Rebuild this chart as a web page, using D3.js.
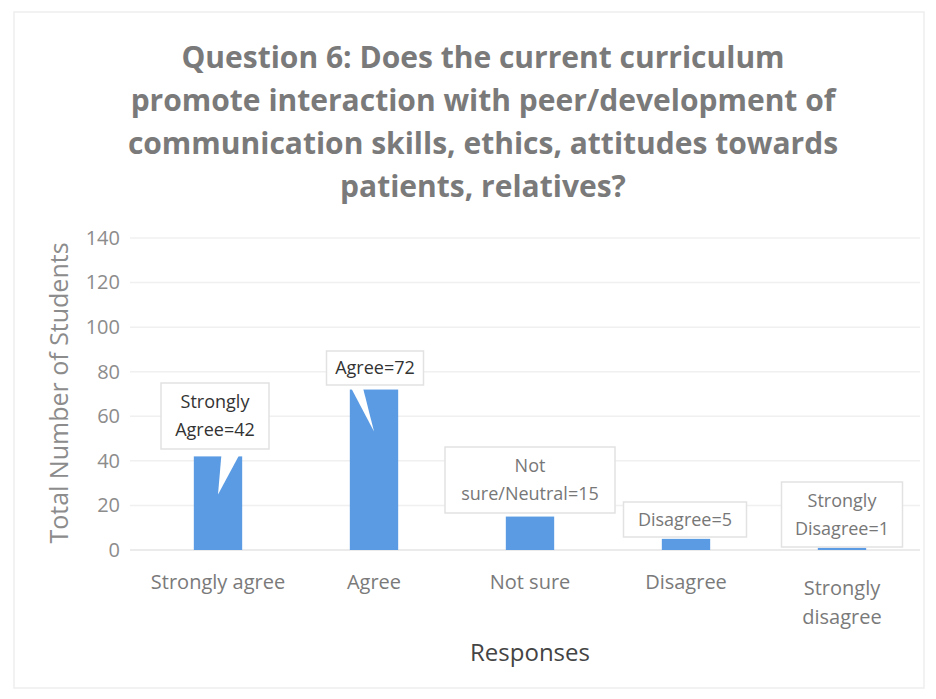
<!DOCTYPE html>
<html>
<head>
<meta charset="utf-8">
<script src="https://cdn.jsdelivr.net/npm/d3@7"></script>
<style>
  body { margin: 0; background: #fff; }
  svg text { font-family: "Open Sans", sans-serif; }
</style>
</head>
<body>
<svg id="chart" width="936" height="699"></svg>
<script>
// data
var categories = ["Strongly agree", "Agree", "Not sure", "Disagree", "Strongly disagree"];
var counts = [42, 72, 15, 5, 1];
var labels = [["Strongly", "Agree=42"], ["Agree=72"], ["Not", "sure/Neutral=15"], ["Disagree=5"], ["Strongly", "Disagree=1"]];
var yTicks = [0, 20, 40, 60, 80, 100, 120, 140];

// callout boxes: offset of box centre from band centre, top y, size
var callouts = [
  { dx: -3, top: 383, w: 108, h: 66, color: "#333", ptr: [4, 25, 38] },
  { dx: 1, top: 351, w: 97, h: 34, color: "#333", ptr: [-25, -12, 42] },
  { dx: 0, top: 447, w: 170, h: 66, color: "#777" },
  { dx: -1, top: 502, w: 123, h: 35, color: "#777" },
  { dx: 0, top: 482, w: 121, h: 65, color: "#777" }
];

var svg = d3.select("#chart");

// faint outer frame from the scan
svg.append("rect")
  .attr("x", 14).attr("y", 12).attr("width", 910).attr("height", 676)
  .attr("fill", "none").attr("stroke", "#eee").attr("stroke-width", 1.5);

var x = d3.scaleBand().domain(categories).range([140, 920]).paddingInner(0.69).paddingOuter(0.345);
var y = d3.scaleLinear().domain([0, 140]).range([550, 238]);

// title
var title = ["Question 6: Does the current curriculum",
  "promote interaction with peer/development of",
  "communication skills, ethics, attitudes towards",
  "patients, relatives?"];
svg.append("g").selectAll("text").data(title).join("text")
  .attr("x", 483).attr("y", function(d, i) { return 68 + i * 43; })
  .attr("text-anchor", "middle")
  .attr("font-size", 30).attr("font-weight", "bold")
  .attr("fill", "#7a7a7a")
  .text(function(d) { return d; });

// gridlines
svg.append("g").selectAll("line").data(yTicks.slice(1)).join("line")
  .attr("x1", 130).attr("x2", 920)
  .attr("y1", function(d) { return y(d); }).attr("y2", function(d) { return y(d); })
  .attr("stroke", "#f0f0f0").attr("stroke-width", 1.5);

// y axis
var yAxis = svg.append("g").attr("transform", "translate(124,0)")
  .call(d3.axisLeft(y).tickValues(yTicks).tickSize(0).tickPadding(4));
yAxis.select(".domain").remove();
yAxis.selectAll("text").attr("font-size", 20).attr("fill", "#8c8c8c")
  .style("font-family", "'Open Sans', sans-serif");

// baseline
svg.append("line")
  .attr("x1", 130).attr("x2", 920).attr("y1", y(0)).attr("y2", y(0))
  .attr("stroke", "#e4e4e4").attr("stroke-width", 1.5);

// bars
svg.append("g").selectAll("rect").data(counts).join("rect")
  .attr("x", function(d, i) { return x(categories[i]); })
  .attr("width", x.bandwidth())
  .attr("y", function(d) { return y(d); })
  .attr("height", function(d) { return Math.max(1.5, y(0) - y(d)); })
  .attr("fill", "#5b9be3");

// callout pointers
callouts.forEach(function(c, i) {
  if (!c.ptr) return;
  var cx = x(categories[i]) + x.bandwidth() / 2;
  var by = c.top + c.h;
  var pts = [[cx + c.ptr[0], by - 1], [cx + c.ptr[1], by - 1], [cx, y(counts[i]) + c.ptr[2]]];
  svg.append("polygon")
    .attr("points", pts.map(function(p) { return p.join(","); }).join(" "))
    .attr("fill", "#fff");
});

// callout boxes + text
var lab = svg.append("g").selectAll("g").data(counts).join("g");
lab.append("rect")
  .attr("x", function(d, i) { return x(categories[i]) + x.bandwidth() / 2 + callouts[i].dx - callouts[i].w / 2; })
  .attr("y", function(d, i) { return callouts[i].top; })
  .attr("width", function(d, i) { return callouts[i].w; })
  .attr("height", function(d, i) { return callouts[i].h; })
  .attr("fill", "#fff").attr("stroke", "#e2e2e2").attr("stroke-width", 1.5);
lab.each(function(d, i) {
  var c = callouts[i];
  var cx = x(categories[i]) + x.bandwidth() / 2 + c.dx;
  var lines = labels[i];
  var t = d3.select(this).append("text")
    .attr("text-anchor", "middle").attr("font-size", 18).attr("fill", c.color);
  lines.forEach(function(s, k) {
    t.append("tspan").attr("x", cx)
      .attr("y", c.top + c.h / 2 + 6 + (k - (lines.length - 1) / 2) * 28)
      .text(s);
  });
});

// x labels
var xl = svg.append("g").selectAll("text").data(categories).join("text")
  .attr("text-anchor", "middle").attr("font-size", 20).attr("fill", "#7a7a7a");
xl.each(function(d) {
  var cx = x(d) + x.bandwidth() / 2;
  var parts = d === "Strongly disagree" ? ["Strongly", "disagree"] : [d];
  var t = d3.select(this);
  parts.forEach(function(s, k) {
    t.append("tspan").attr("x", cx).attr("y", 589 + k * 29 + (parts.length > 1 ? 6 : 0)).text(s);
  });
});

// axis titles
svg.append("text")
  .attr("x", 530).attr("y", 661).attr("text-anchor", "middle")
  .attr("font-size", 24).attr("fill", "#444")
  .text("Responses");
svg.append("text")
  .attr("transform", "translate(68,393) rotate(-90)")
  .attr("text-anchor", "middle").attr("font-size", 25).attr("fill", "#8c8c8c")
  .style("font-family", "'Open Sans', sans-serif")
  .text("Total Number of Students");
</script>
</body>
</html>
